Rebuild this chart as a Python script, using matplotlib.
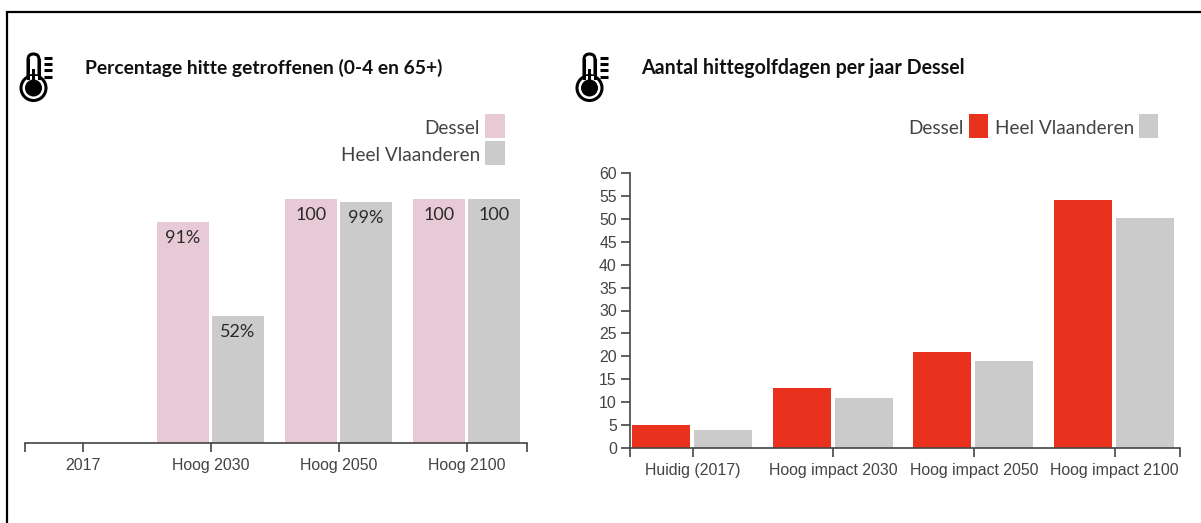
import matplotlib
matplotlib.use("Agg")
import matplotlib.pyplot as plt
from matplotlib.patches import Circle, Rectangle, FancyBboxPatch

# Data
cats_left = ["2017", "Hoog 2030", "Hoog 2050", "Hoog 2100"]
dessel_left = [0, 90.7, 100, 100]
vlaanderen_left = [0, 52, 98.8, 100]
labels_dessel = ["", "91%", "100", "100"]
labels_vlaanderen = ["", "52%", "99%", "100"]

cats_right = ["Huidig (2017)", "Hoog impact 2030", "Hoog impact 2050", "Hoog impact 2100"]
dessel_right = [5, 13.2, 21, 54.2]
vlaanderen_right = [4, 11, 19, 50.2]
yticks_right = [0, 5, 10, 15, 20, 25, 30, 35, 40, 45, 50, 55, 60]

PINK = "#e8cad7"
RED = "#e8321e"
GREY = "#cbcbcb"
AXC = "#444444"
W, H = 1201, 523
BODY = "Lato"
TICK = "Liberation Sans"

fig = plt.figure(figsize=(W / 100, H / 100), dpi=100)


def px_axes(x0, x1, ytop, ybot):
    return fig.add_axes([x0 / W, 1 - ybot / H, (x1 - x0) / W, (ybot - ytop) / H])


# overlay in pixel coordinates for frame, icons and legends
ov = fig.add_axes([0, 0, 1, 1])
ov.set_xlim(0, W)
ov.set_ylim(H, 0)
ov.axis("off")
ov.plot([7, 7, W], [H, 12, 12], color="black", lw=1.6, solid_joinstyle="miter")


def thermometer(dx):
    ov.add_patch(FancyBboxPatch((28 + dx, 54), 11, 30, boxstyle="round,pad=0,rounding_size=5.5",
                                fc="white", ec="black", lw=2.2))
    ov.add_patch(Circle((33.5 + dx, 88), 12.5, fc="white", ec="black", lw=2.2, zorder=3))
    ov.add_patch(Rectangle((29.5 + dx, 76), 8, 14, fc="white", ec="none", zorder=3.5))
    ov.plot([28 + dx, 28 + dx], [60, 78], color="black", lw=2.2, zorder=4)
    ov.plot([39 + dx, 39 + dx], [60, 78], color="black", lw=2.2, zorder=4)
    ov.add_patch(Rectangle((32 + dx, 69), 3, 16, fc="black", ec="none", zorder=4))
    ov.add_patch(Circle((33.5 + dx, 88), 8.5, fc="black", ec="none", zorder=4))
    for y in [58, 64, 70, 77]:
        ov.plot([44 + dx, 52 + dx], [y, y], color="black", lw=2.2, solid_capstyle="butt")


thermometer(0)
thermometer(556)

ov.text(85, 68, "Percentage hitte getroffenen (0-4 en 65+)", family=BODY, weight="bold",
        fontsize=13.9, va="center", color="#111111")
ov.text(641, 68, "Aantal hittegolfdagen per jaar Dessel", family=BODY, weight="bold",
        fontsize=14.1, va="center", color="#111111")

# legends
ov.text(480, 128.5, "Dessel", family=BODY, fontsize=13.7, ha="right", va="center", color="#444444")
ov.add_patch(Rectangle((485, 114), 20, 24, fc=PINK, ec="none"))
ov.text(480, 155.5, "Heel Vlaanderen", family=BODY, fontsize=13.7, ha="right", va="center", color="#444444")
ov.add_patch(Rectangle((485, 141), 20, 24, fc=GREY, ec="none"))

ov.text(964, 128.5, "Dessel", family=BODY, fontsize=13.7, ha="right", va="center", color="#444444")
ov.add_patch(Rectangle((969, 114), 19, 24, fc=RED, ec="none"))
ov.text(1134, 128.5, "Heel Vlaanderen", family=BODY, fontsize=13.7, ha="right", va="center", color="#444444")
ov.add_patch(Rectangle((1139, 114), 19, 24, fc=GREY, ec="none"))

# left chart
ax1 = px_axes(25, 527, 199, 443)
ax1.patch.set_alpha(0)
xs = list(range(len(cats_left)))
ax1.bar([x - 0.219 for x in xs], dessel_left, 0.406, color=PINK)
ax1.bar([x + 0.211 for x in xs], vlaanderen_left, 0.406, color=GREY)
ax1.set_xlim(-58 / 128, 444 / 128)
ax1.set_ylim(0, 100)
for i in xs:
    ax1.text(i - 0.219, dessel_left[i] - 6.6, labels_dessel[i], family=BODY, fontsize=13,
             ha="center", va="center", color="#2a2a2a")
    ax1.text(i + 0.211, vlaanderen_left[i] - 6.6, labels_vlaanderen[i], family=BODY, fontsize=13,
             ha="center", va="center", color="#2a2a2a")
for s in ["top", "left", "right"]:
    ax1.spines[s].set_visible(False)
ax1.spines["bottom"].set_color(AXC)
ax1.spines["bottom"].set_linewidth(1.2)
ax1.set_yticks([])
ax1.set_xticks(xs)
ax1.set_xticklabels(cats_left, family=TICK, fontsize=11.4, color="#444444")
ax1.set_xticks([-58 / 128, 444 / 128], minor=True)
ax1.tick_params(axis="x", which="both", length=6.5, width=1.2, color=AXC, pad=4)

# right chart
ax2 = px_axes(630, 1180, 173, 448)
ax2.patch.set_alpha(0)
ax2.bar([x - 0.224 for x in xs], dessel_right, 0.412, color=RED)
ax2.bar([x + 0.217 for x in xs], vlaanderen_right, 0.412, color=GREY)
ax2.set_xlim(-62.5 / 140.7, 487.5 / 140.7)
ax2.set_ylim(0, 60)
for s in ["top", "right"]:
    ax2.spines[s].set_visible(False)
for s in ["bottom", "left"]:
    ax2.spines[s].set_color(AXC)
    ax2.spines[s].set_linewidth(1.2)
ax2.set_yticks(yticks_right)
ax2.set_yticklabels([str(v) for v in yticks_right], family=TICK, fontsize=11.4, color="#444444")
ax2.set_xticks(xs)
ax2.set_xticklabels(cats_right, family=TICK, fontsize=11.4, color="#444444")
ax2.set_xticks([-62.5 / 140.7, 487.5 / 140.7], minor=True)
ax2.tick_params(axis="x", which="both", length=6.5, width=1.2, color=AXC, pad=4)
ax2.tick_params(axis="y", which="both", length=6.5, width=1.2, color=AXC, pad=3)

fig.savefig("out.png", dpi=100)
